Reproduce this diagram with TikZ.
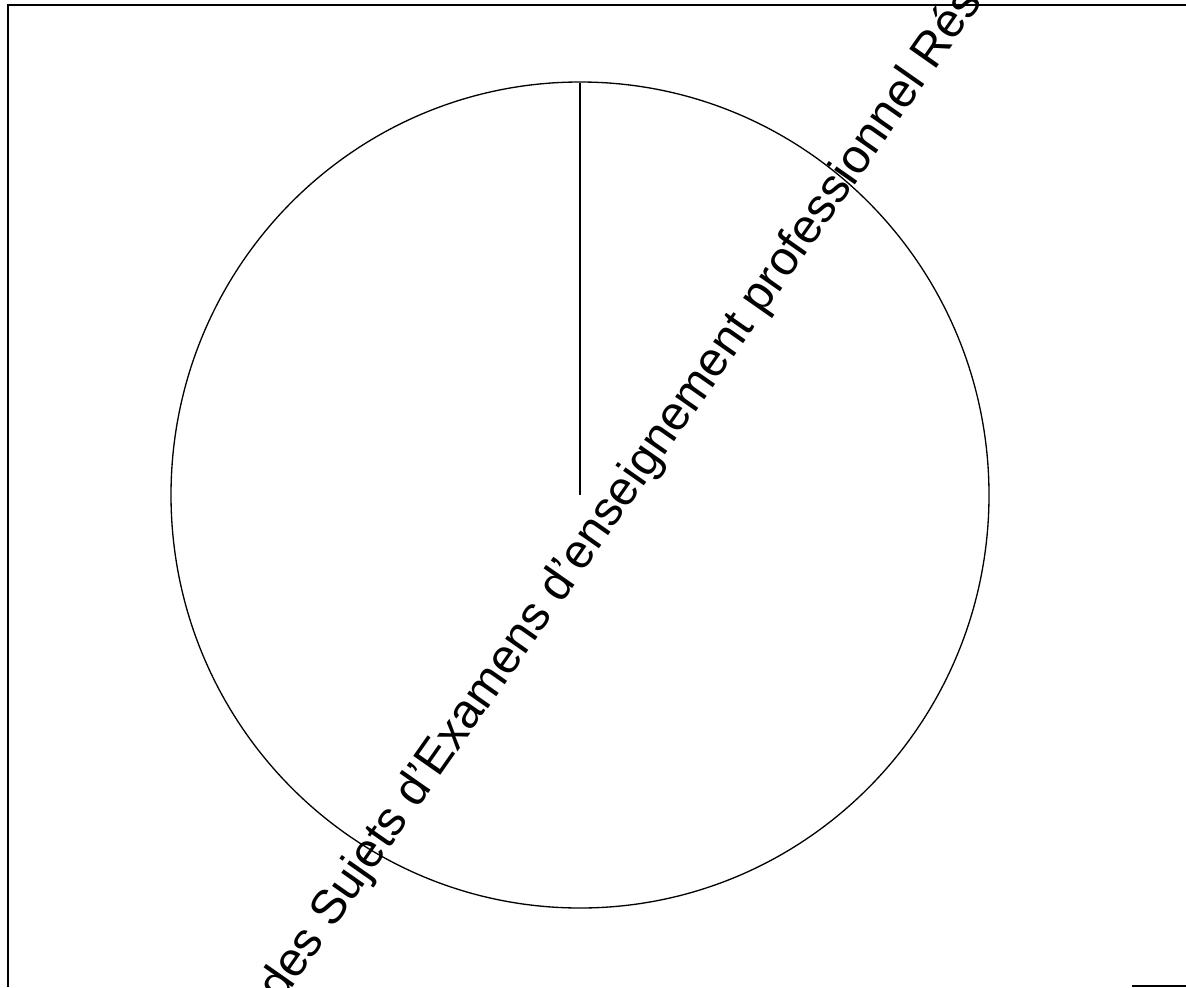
\documentclass[tikz,border=0pt]{standalone}
\usepackage{fontspec}
\setmainfont{Liberation Sans}
\usepackage{tikz}
\usetikzlibrary{
	positioning,
	calc
}

\begin{document}
\begin{tikzpicture}[x=0.02cm,y=-0.02cm]
		
		\useasboundingbox (0,0) rectangle (1186,987);
		\clip (0,0) rectangle (1186,987);
		
		% frame
		\draw[line width=1.1pt] (8,987) -- (8,5) -- (1186,5);
		\draw[line width=1.1pt] (1132,986) -- (1186,986);
		
		% dial and its needle
		\coordinate (centre) at (580,495);
		\coordinate (top) at (580,83);
		\draw[line width=0.75pt] (centre) ellipse [x radius=409, y radius=413];
		\draw[line width=1.1pt] (top) -- (centre);
		
		% watermark
		\node[rotate=55,anchor=base west,inner sep=0pt,font=\fontsize{27.3}{30}\selectfont] (mark) at (281,1004) {des Sujets d’Examens d’enseignement professionnel Rés};
		
	\end{tikzpicture}
\end{document}
